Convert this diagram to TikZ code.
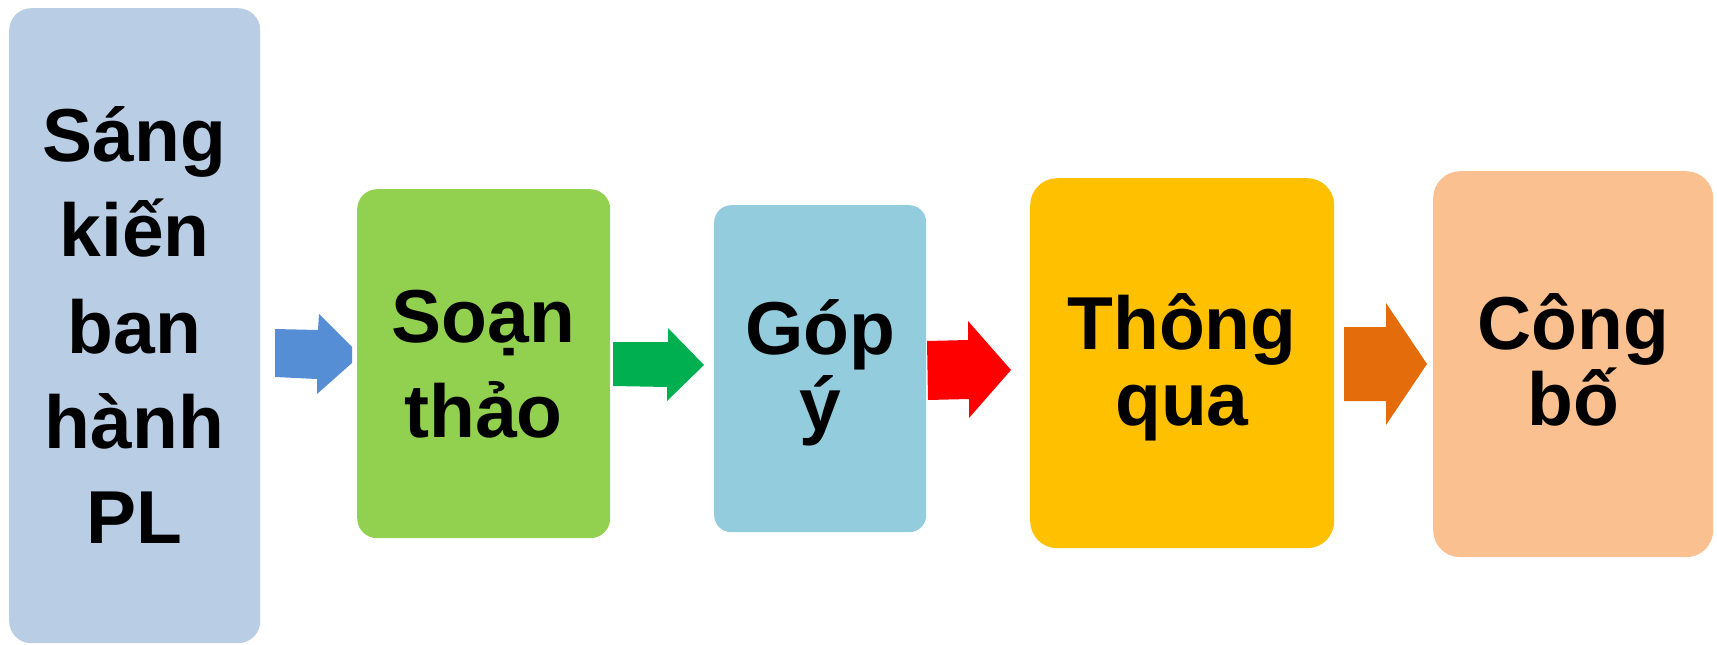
\documentclass[tikz,border=0pt]{standalone}
\usepackage{fontspec}
\setmainfont{Liberation Sans}
\definecolor{cA}{RGB}{185,205,229}
\definecolor{cB}{RGB}{146,208,80}
\definecolor{cC}{RGB}{147,205,221}
\definecolor{cD}{RGB}{255,192,0}
\definecolor{cE}{RGB}{250,192,144}
\definecolor{aA}{RGB}{85,142,213}
\definecolor{aB}{RGB}{0,176,80}
\definecolor{aC}{RGB}{255,0,0}
\definecolor{aD}{RGB}{228,108,10}
\tikzset{
  txt/.style={inner sep=0pt, anchor=base, font=\fontsize{75}{90}\selectfont\bfseries},
  boxfill/.style={draw=none, inner sep=0pt, rectangle, anchor=north west}
}
\begin{document}
\begin{tikzpicture}[x=1pt,y=-1pt]
\useasboundingbox (0,0) rectangle (1717,645);
\fill[white] (0,0) rectangle (1717,645);
% boxes
\node[boxfill, fill=cA, rounded corners=22pt, minimum width=251pt, minimum height=635pt] (b1) at (9,8) {};
\node[boxfill, fill=cB, rounded corners=20pt, minimum width=253pt, minimum height=349pt] (b2) at (357,189) {};
\node[boxfill, fill=cC, rounded corners=17pt, minimum width=212pt, minimum height=327pt] (b3) at (714,205) {};
\node[boxfill, fill=cD, rounded corners=27pt, minimum width=304pt, minimum height=370pt] (b4) at (1030,178) {};
\node[boxfill, fill=cE, rounded corners=27pt, minimum width=280pt, minimum height=386pt] (b5) at (1433,171) {};
% arrows
\fill[aA] (275,329) -- (318,330) -- (319,314) -- (352,347) -- (352,363) -- (317,394) -- (317,379) -- (275,377) -- cycle;
\fill[aB] (613,342) -- (668,342) -- (668,328) -- (704,365) -- (667,401) -- (667,387) -- (613,386) -- cycle;
\fill[aC] (927,341) -- (968,340) -- (968,321) -- (1011,370) -- (969,418) -- (969,399) -- (928,400) -- cycle;
\fill[aD] (1344,327) -- (1386,327) -- (1386,303) -- (1427,364) -- (1386,425) -- (1386,401) -- (1344,401) -- cycle;
% texts
\node[txt] (t11) at (134.5,161) {Sáng};
\node[txt] (t12) at (134.5,256) {kiến};
\node[txt] (t13) at (134.5,353) {ban};
\node[txt] (t14) at (134.5,448) {hành};
\node[txt] (t15) at (134.5,543) {PL};
\node[txt] (t21) at (483.5,342) {Soạn};
\node[txt] (t22) at (483.5,437) {thảo};
\node[txt] (t31) at (820,354) {Góp};
\node[txt] (t32) at (820,430) {ý};
\node[txt] (t41) at (1182,349) {Thông};
\node[txt] (t42) at (1182,425) {qua};
\node[txt] (t51) at (1573,349) {Công};
\node[txt] (t52) at (1573,425) {bố};
\end{tikzpicture}
\end{document}
